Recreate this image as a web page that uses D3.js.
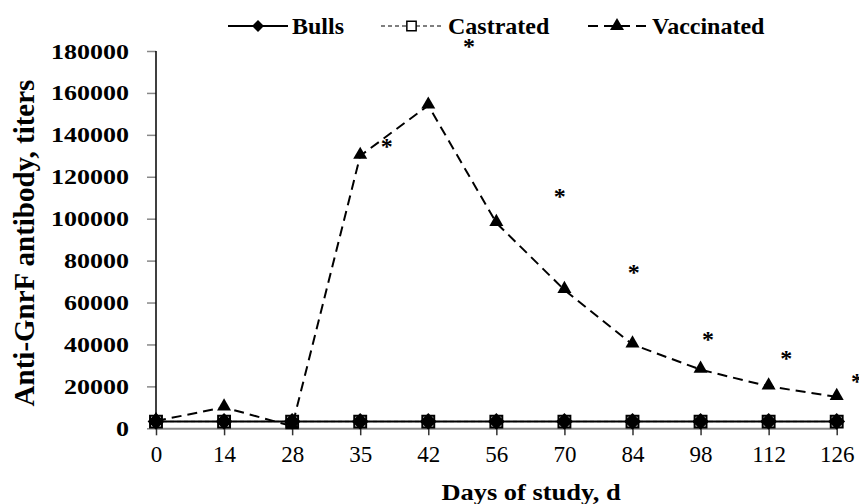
<!DOCTYPE html>
<html>
<head>
  <style>
    body {
      margin: 0;
      background: white;
    }
    svg text {
      font-family: "Liberation Serif", "Times New Roman", Tinos, serif;
      fill: black;
    }
  </style>
</head>
<body>
  <script src="https://d3js.org/d3.v7.min.js"></script>
  <script>
    var width = 859, height = 504;
    var serif = '"Liberation Serif", "Times New Roman", serif';

    var days = ["0", "14", "28", "35", "42", "56", "70", "84", "98", "112", "126"];
    var bulls = [3300, 3300, 3300, 3300, 3300, 3300, 3300, 3300, 3300, 3300, 3300];
    var castrated = [3200, 3200, 3200, 3200, 3200, 3200, 3200, 3200, 3200, 3200, 3200];
    var vaccinated = [3500, 10000, 1000, 130000, 154000, 98000, 66000, 40000, 28000, 20000, 15000];
    var yTicks = [0, 20000, 40000, 60000, 80000, 100000, 120000, 140000, 160000, 180000];
    // significance marks: position along the day axis (in category steps) and height
    var starIndex = [3.39, 4.6, 5.93, 7.02, 8.11, 9.26, 10.3];
    var starValue = [136500, 184500, 112600, 76700, 44600, 35600, 24600];

    var svg = d3.select("body").append("svg")
        .attr("width", width)
        .attr("height", height)
        .attr("font-family", serif);

    var x = d3.scalePoint().domain(days).range([156, 836.7]);
    var y = d3.scaleLinear().domain([0, 180000]).range([428.3, 51]);

    // y axis
    var yAxis = svg.append("g")
        .attr("transform", "translate(156,0)")
        .call(d3.axisLeft(y).tickValues(yTicks).tickSize(9).tickPadding(0).tickFormat(d3.format("d")))
        .attr("font-family", serif);
    yAxis.select(".domain").remove();
    yAxis.selectAll(".tick line").attr("stroke", "#888").attr("stroke-width", 1.5);
    yAxis.selectAll(".tick text")
        .attr("x", null)
        .attr("dy", null)
        .style("font-size", "20px")
        .style("font-weight", "bold")
        .attr("text-anchor", "end")
        .attr("transform", "translate(-27,7) scale(1.3,1)");
    svg.append("line")
        .attr("x1", 156).attr("x2", 156)
        .attr("y1", y(180000)).attr("y2", y(0))
        .attr("stroke", "black").attr("stroke-width", 1.5);

    // x axis
    var xAxis = svg.append("g")
        .attr("transform", "translate(0," + y(0) + ")")
        .call(d3.axisBottom(x).tickSize(7).tickSizeOuter(0).tickPadding(10))
        .attr("font-family", serif);
    xAxis.select(".domain").attr("stroke", "#888").attr("stroke-width", 2);
    xAxis.selectAll(".tick line").attr("stroke", "#333").attr("stroke-width", 1.5);
    xAxis.selectAll(".tick text")
        .style("font-size", "23px")
        .attr("fill", "black");

    svg.append("text")
        .attr("x", 531).attr("y", 500)
        .attr("text-anchor", "middle")
        .style("font-size", "23px")
        .style("font-weight", "bold")
        .attr("transform", "translate(531,0) scale(1.15,1) translate(-531,0)")
        .text("Days of study, d");

    svg.append("text")
        .attr("transform", "translate(34,243) rotate(-90)")
        .attr("text-anchor", "middle")
        .style("font-size", "29px")
        .style("font-weight", "bold")
        .text("Anti-GnrF antibody, titers");

    var line = d3.line()
        .x((d, i) => x(days[i]))
        .y(d => y(d));

    var diamond = d3.symbol().type(d3.symbolDiamond2).size(180);
    var square = d3.symbol().type(d3.symbolSquare2).size(180);
    var triangle = d3.symbol().type(d3.symbolTriangle).size(85);

    // Castrated (mostly hidden behind bulls)
    svg.append("path")
        .datum(castrated)
        .attr("d", line)
        .attr("fill", "none")
        .attr("stroke", "#999")
        .attr("stroke-width", 1.5)
        .attr("stroke-dasharray", "4,3");

    // Bulls
    svg.append("path")
        .datum(bulls)
        .attr("d", line)
        .attr("fill", "none")
        .attr("stroke", "black")
        .attr("stroke-width", 2);

    // Vaccinated
    svg.append("path")
        .datum(vaccinated)
        .attr("d", line)
        .attr("fill", "none")
        .attr("stroke", "black")
        .attr("stroke-width", 2)
        .attr("stroke-dasharray", "10,6");

    svg.selectAll(".bullsPt")
        .data(bulls)
      .enter().append("path")
        .attr("d", diamond)
        .attr("transform", (d, i) => "translate(" + x(days[i]) + "," + y(d) + ")")
        .attr("fill", "black");

    svg.selectAll(".castPt")
        .data(castrated)
      .enter().append("path")
        .attr("d", square)
        .attr("transform", (d, i) => "translate(" + x(days[i]) + "," + y(d) + ")")
        .attr("fill", "none")
        .attr("stroke", "black")
        .attr("stroke-width", 2);

    svg.selectAll(".vacPt")
        .data(vaccinated)
      .enter().append("path")
        .attr("d", triangle)
        .attr("transform", (d, i) => "translate(" + x(days[i]) + "," + (y(d) - 1) + ")")
        .attr("fill", "black");

    // asterisks
    var step = x.step();
    svg.selectAll(".star")
        .data(starValue)
      .enter().append("text")
        .attr("x", (d, i) => x(days[0]) + starIndex[i] * step)
        .attr("y", d => y(d) + 12)
        .attr("text-anchor", "middle")
        .style("font-size", "24px")
        .style("font-weight", "bold")
        .text("*");

    // legend
    var legendSquare = d3.symbol().type(d3.symbolSquare2).size(110);
    var legend = [
      {name: "Bulls", x0: 228, x1: 288, tx: 292, dash: null, sym: d3.symbol().type(d3.symbolDiamond2).size(90), fill: "black"},
      {name: "Castrated", x0: 381, x1: 442, tx: 448, dash: "4,3", sym: legendSquare, fill: "white"},
      {name: "Vaccinated", x0: 588, x1: 646, tx: 652, dash: "10,6", sym: triangle, fill: "black"}
    ];
    var lg = svg.selectAll(".legend")
        .data(legend)
      .enter().append("g");
    lg.append("line")
        .attr("x1", d => d.x0).attr("x2", d => d.x1)
        .attr("y1", 26).attr("y2", 26)
        .attr("stroke", "black")
        .attr("stroke-width", d => d.dash === "4,3" ? 1.2 : 2)
        .attr("stroke-dasharray", d => d.dash);
    lg.append("path")
        .attr("d", d => d.sym())
        .attr("transform", d => "translate(" + (d.x0 + d.x1) / 2 + ",26)")
        .attr("fill", d => d.fill)
        .attr("stroke", d => d.name === "Castrated" ? "black" : "none")
        .attr("stroke-width", 1.5);
    lg.append("text")
        .attr("x", d => d.tx).attr("y", 34)
        .style("font-size", "24px")
        .style("font-weight", "bold")
        .text(d => d.name);
  </script>
</body>
</html>
